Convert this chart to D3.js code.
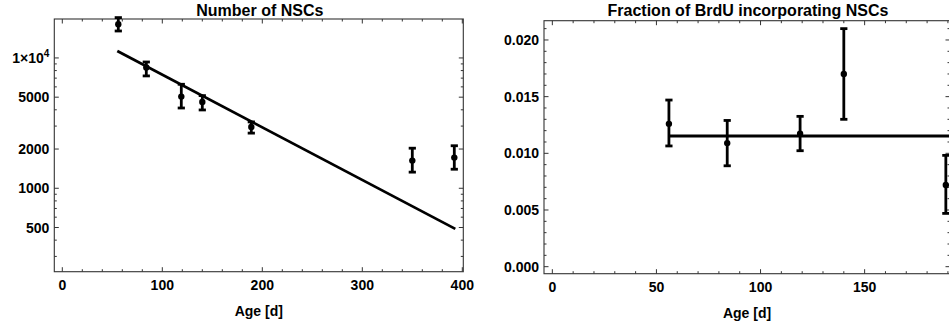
<!DOCTYPE html>
<html>
<head>
<meta charset="utf-8">
<script src="https://cdn.jsdelivr.net/npm/d3@7"></script>
<style>
  body { margin: 0; background: #fff; }
  text { font-family: "Liberation Sans", Arial, sans-serif; font-weight: bold; fill: #000; }
</style>
</head>
<body>
<div id="chart"></div>
<script>
'use strict';

// left panel: number of NSCs (log scale)
var nscAge    = [56, 84, 119, 140, 189, 350, 392];
var nscCount  = [18150, 8440, 5050, 4590, 2950, 1630, 1720];
var nscLow    = [16100, 7280, 4130, 3990, 2650, 1330, 1400];
var nscHigh   = [20400, 9310, 6280, 5140, 3230, 2030, 2120];
var nscFitAge   = [55, 393];
var nscFitCount = [11300, 488];
var nscXTicks = [0, 100, 200, 300, 400];
var nscYTicks = [500, 1000, 2000, 5000, 10000];

// right panel: BrdU fraction
var brduAge   = [56, 84, 119, 140, 189];
var brduFrac  = [0.0126, 0.0109, 0.01173, 0.0170, 0.0072];
var brduLow   = [0.01065, 0.0089, 0.01023, 0.0130, 0.0047];
var brduHigh  = [0.0147, 0.0129, 0.01326, 0.0210, 0.00982];
var brduFitAge  = [56, 195];
var brduFitFrac = [0.01153, 0.01153];
var brduXTicks = [0, 50, 100, 150];
var brduYTicks = [0, 0.005, 0.010, 0.015, 0.020];

var W = 949, H = 327;

var svg = d3.select('#chart').append('svg')
    .attr('width', W)
    .attr('height', H);

function drawPanel(o)
{
    var g = svg.append('g');

    // minor + major ticks on all four sides, ticks pointing inward
    var xs = o.xScale, ys = o.yScale;
    var L = o.box.left, R = o.box.right, T = o.box.top, B = o.box.bottom;

    o.xMinor.forEach(function(v){
        var x = xs(v);
        if (x < L || x > R) return;
        var len = o.xMajor.indexOf(v) >= 0 ? 4.5 : 2.5;
        g.append('line').attr('x1', x).attr('x2', x).attr('y1', B).attr('y2', B - len)
            .attr('stroke', '#333').attr('stroke-width', 1);
        g.append('line').attr('x1', x).attr('x2', x).attr('y1', T).attr('y2', T + len)
            .attr('stroke', '#333').attr('stroke-width', 1);
    });
    o.yMinor.forEach(function(v){
        var y = ys(v);
        if (y < T || y > B) return;
        var len = o.yMajor.indexOf(v) >= 0 ? 4.5 : 2.5;
        g.append('line').attr('x1', L).attr('x2', L + len).attr('y1', y).attr('y2', y)
            .attr('stroke', '#333').attr('stroke-width', 1);
        g.append('line').attr('x1', R).attr('x2', R - len).attr('y1', y).attr('y2', y)
            .attr('stroke', '#333').attr('stroke-width', 1);
    });

    g.append('rect')
        .attr('x', L).attr('y', T)
        .attr('width', R - L).attr('height', B - T)
        .attr('fill', 'none').attr('stroke', '#333').attr('stroke-width', 1.1);

    // tick labels
    o.xMajor.forEach(function(v){
        g.append('text').attr('x', xs(v)).attr('y', B + 18.5)
            .attr('text-anchor', 'middle').style('font-size', '14px')
            .text(o.xFormat(v));
    });
    o.yMajor.forEach(function(v){
        var t = g.append('text').attr('x', L - 5).attr('y', ys(v) + 5)
            .attr('text-anchor', 'end').style('font-size', '14px');
        o.yLabel(t, v);
    });

    // titles
    g.append('text').attr('x', (L + R) / 2 + 1).attr('y', o.titleY)
        .attr('text-anchor', 'middle').style('font-size', '16px').text(o.title);
    g.append('text').attr('x', (L + R) / 2).attr('y', B + 44.5)
        .attr('text-anchor', 'middle').style('font-size', '14px').text('Age [d]');

    // fit line
    var line = d3.line().x(function(d){ return xs(d[0]); }).y(function(d){ return ys(d[1]); });
    g.append('path')
        .datum(d3.zip(o.fitX, o.fitY))
        .attr('d', line)
        .attr('fill', 'none').attr('stroke', '#000').attr('stroke-width', 2.8);

    // error bars
    var pts = d3.range(o.x.length).map(function(i){
        return {x: o.x[i], y: o.y[i], lo: o.lo[i], hi: o.hi[i]};
    });
    var eb = g.selectAll('g.eb').data(pts).enter().append('g').attr('class', 'eb');
    eb.append('line')
        .attr('x1', function(d){ return xs(d.x); }).attr('x2', function(d){ return xs(d.x); })
        .attr('y1', function(d){ return ys(d.lo); }).attr('y2', function(d){ return ys(d.hi); })
        .attr('stroke', '#000').attr('stroke-width', 2.8);
    ['lo', 'hi'].forEach(function(k){
        eb.append('line')
            .attr('x1', function(d){ return xs(d.x) - 3.6; }).attr('x2', function(d){ return xs(d.x) + 3.6; })
            .attr('y1', function(d){ return ys(d[k]); }).attr('y2', function(d){ return ys(d[k]); })
            .attr('stroke', '#000').attr('stroke-width', 2.8);
    });
    eb.append('circle')
        .attr('cx', function(d){ return xs(d.x); })
        .attr('cy', function(d){ return ys(d.y); })
        .attr('r', 3.2).attr('fill', '#000');
}

// ---- left panel
var box1 = {left: 54.3, right: 463.3, top: 19, bottom: 271.7};
var logMinor = [];
[100, 1000, 10000].forEach(function(d){
    for (var k = 1; k <= 9; k++) logMinor.push(d * k);
});

drawPanel({
    box: box1,
    xScale: d3.scaleLinear().domain([-8, 401]).range([box1.left, box1.right]),
    yScale: d3.scaleLog().domain([229, 19900]).range([box1.bottom, box1.top]),
    xMajor: nscXTicks,
    xMinor: d3.range(0, 401, 20),
    yMajor: nscYTicks,
    yMinor: logMinor,
    xFormat: function(v){ return String(v); },
    yLabel: function(t, v){
        if (v === 10000) {
            t.append('tspan').text('1\u00d710');
            t.append('tspan').attr('dy', -6).style('font-size', '10px').text('4');
        } else {
            t.text(String(v));
        }
    },
    title: 'Number of NSCs',
    titleY: 15.5,
    x: nscAge, y: nscCount, lo: nscLow, hi: nscHigh,
    fitX: nscFitAge, fitY: nscFitCount
});

// ---- right panel
var box2 = {left: 544, right: 950, top: 20.7, bottom: 273.7};
drawPanel({
    box: box2,
    xScale: d3.scaleLinear().domain([-4, 191]).range([box2.left, box2.right]),
    yScale: d3.scaleLinear().domain([-0.00062, 0.0217]).range([box2.bottom, box2.top]),
    xMajor: brduXTicks,
    xMinor: d3.range(0, 191, 10),
    yMajor: brduYTicks,
    yMinor: d3.range(0, 22).map(function(i){ return +(i * 0.001).toFixed(3); }),
    xFormat: function(v){ return String(v); },
    yLabel: function(t, v){ t.text(d3.format('.3f')(v)); },
    title: 'Fraction of BrdU incorporating NSCs',
    titleY: 15.5,
    x: brduAge, y: brduFrac, lo: brduLow, hi: brduHigh,
    fitX: brduFitAge, fitY: brduFitFrac
});
</script>
</body>
</html>
